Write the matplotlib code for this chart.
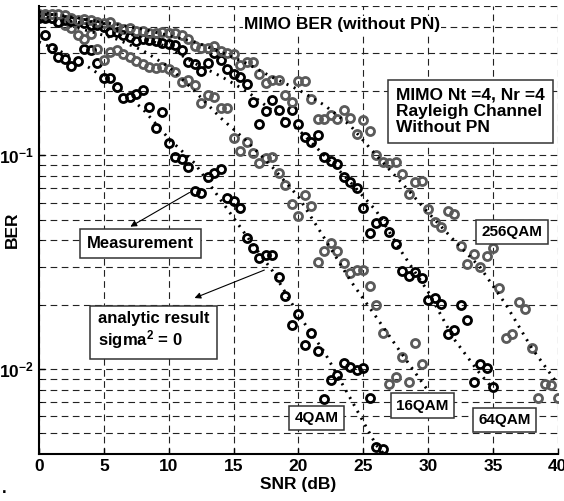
import numpy as np
import matplotlib
matplotlib.use('Agg')
import matplotlib.pyplot as plt
from matplotlib.ticker import LogLocator, FixedLocator, FixedFormatter, NullFormatter

plt.rcParams['font.family'] = ['Liberation Sans', 'DejaVu Sans']
plt.rcParams['font.weight'] = 'bold'
plt.rcParams['mathtext.fontset'] = 'custom'
plt.rcParams['mathtext.rm'] = 'Liberation Sans:bold'
plt.rcParams['mathtext.it'] = 'Liberation Sans:bold'
plt.rcParams['mathtext.bf'] = 'Liberation Sans:bold'

# measured BER, 0.5 dB steps
snr_4 = np.arange(1, 54) / 2
ber_4 = [0.366, 0.32, 0.29, 0.284, 0.262, 0.276, 0.315, 0.313, 0.27, 0.23,
         0.23, 0.21, 0.185, 0.187, 0.193, 0.202, 0.168, 0.135, 0.16, 0.114,
         0.098, 0.096, 0.088, 0.068, 0.067, 0.079, 0.083, 0.086, 0.063, 0.061,
         0.057, 0.041, 0.037, 0.033, 0.034, 0.034, 0.027, 0.022, 0.016, 0.018,
         0.013, 0.0148, 0.0121, 0.0072, 0.0089, 0.0094, 0.0107, 0.0102, 0.0099, 0.0101,
         0.0073, 0.0043, 0.0042]

snr_16 = np.arange(0, 60) / 2
ber_16 = [0.45, 0.45, 0.44, 0.42, 0.41, 0.395, 0.366, 0.35, 0.37, 0.315,
          0.279, 0.305, 0.311, 0.297, 0.29, 0.276, 0.268, 0.26, 0.257, 0.26,
          0.254, 0.245, 0.22, 0.225, 0.213, 0.175, 0.191, 0.187, 0.166, 0.166,
          0.121, 0.105, 0.115, 0.103, 0.092, 0.097, 0.098, 0.083, 0.073, 0.0595,
          0.052, 0.0655, 0.058, 0.0318, 0.0358, 0.039, 0.0355, 0.0315, 0.028, 0.029,
          0.029, 0.0245, 0.02, 0.0148, 0.0085, 0.0092, 0.0114, 0.0087, 0.0133, 0.0106]

snr_64 = np.arange(0, 71) / 2
ber_64 = [0.44, 0.44, 0.44, 0.42, 0.43, 0.425, 0.425, 0.415, 0.41, 0.408,
          0.4, 0.38, 0.38, 0.366, 0.36, 0.345, 0.35, 0.347, 0.343, 0.336,
          0.332, 0.328, 0.311, 0.273, 0.268, 0.248, 0.27, 0.3, 0.279, 0.254,
          0.24, 0.232, 0.215, 0.178, 0.141, 0.162, 0.181, 0.163, 0.144, 0.163,
          0.14, 0.122, 0.115, 0.124, 0.098, 0.094, 0.091, 0.079, 0.075, 0.07,
          0.057, 0.0435, 0.0485, 0.0495, 0.044, 0.0386, 0.0288, 0.0273, 0.0285, 0.0268,
          0.0211, 0.0215, 0.0202, 0.0146, 0.0152, 0.02, 0.017, 0.0087, 0.0105, 0.0101,
          0.0082]

snr_256 = np.arange(0, 81) / 2
ber_256 = [0.46, 0.46, 0.46, 0.46, 0.454, 0.44, 0.43, 0.435, 0.43, 0.42,
           0.415, 0.42, 0.4, 0.39, 0.395, 0.382, 0.382, 0.374, 0.374, 0.378,
           0.374, 0.374, 0.366, 0.351, 0.324, 0.318, 0.32, 0.324, 0.307, 0.301,
           0.298, 0.265, 0.273, 0.273, 0.24, 0.218, 0.225, 0.225, 0.191, 0.177,
           0.222, 0.222, 0.183, 0.148, 0.148, 0.154, 0.148, 0.163, 0.15, 0.126,
           0.146, 0.13, 0.1, 0.093, 0.092, 0.093, 0.082, 0.066, 0.075, 0.076,
           0.056, 0.049, 0.046, 0.055, 0.053, 0.0378, 0.031, 0.0346, 0.03, 0.0339,
           0.037, 0.024, 0.0139, 0.0146, 0.0205, 0.019, 0.0126, 0.0073, 0.0085, 0.0084,
           0.0073]

# analytic curves (sigma^2 = 0)
snr_a4 = [0, 2, 4, 6, 8, 10, 12, 14, 16, 18, 20, 22, 24, 26, 26.6]
ber_a4 = [0.34, 0.30, 0.255, 0.21, 0.165, 0.12, 0.092, 0.062, 0.042, 0.0288,
          0.018, 0.012, 0.0073, 0.0044, 0.004]
snr_a16 = [0, 2, 4, 6, 8, 10, 12, 14, 16, 18, 20, 22, 24, 26, 28, 30]
ber_a16 = [0.43, 0.41, 0.38, 0.35, 0.31, 0.26, 0.2, 0.15, 0.117, 0.088,
           0.064, 0.041, 0.026, 0.0175, 0.0117, 0.0079]
snr_a64 = [0, 2, 4, 6, 8, 10, 12, 14, 16, 18, 20, 22, 24, 26, 28, 30, 32, 34, 35]
ber_a64 = [0.45, 0.43, 0.41, 0.385, 0.355, 0.32, 0.27, 0.235, 0.2, 0.162,
           0.132, 0.1, 0.075, 0.055, 0.035, 0.023, 0.0138, 0.0095, 0.0081]
snr_a256 = [0, 4, 8, 12, 14, 16, 18, 20, 22, 24, 26, 28, 30, 32, 34, 36, 38, 40]
ber_a256 = [0.47, 0.43, 0.39, 0.34, 0.305, 0.27, 0.232, 0.203, 0.172, 0.138,
            0.1, 0.074, 0.054, 0.04, 0.03, 0.02, 0.0125, 0.0085]

xticks = [0, 5, 10, 15, 20, 25, 30, 35, 40]
gray = '#5a5a5a'

fig = plt.figure(figsize=(5.64, 5.01), dpi=100)
ax = fig.add_axes([0.0691, 0.0938, 0.92, 0.894])

mk = dict(ls='none', marker='o', mfc='none', ms=5.8, mew=2.0)
ax.plot(snr_4, ber_4, mec='k', **mk)
ax.plot(snr_16, ber_16, mec=gray, **mk)
ax.plot(snr_64, ber_64, mec='k', **mk)
ax.plot(snr_256, ber_256, mec=gray, **mk)

dot = dict(color='k', lw=2.1, ls=(0, (0.7, 2.0)))
for s, b in [(snr_a4, ber_a4), (snr_a16, ber_a16), (snr_a64, ber_a64), (snr_a256, ber_a256)]:
    ax.plot(s, b, **dot)

ax.set_yscale('log')
ax.set_xlim(0, 40)
ax.set_ylim(0.004, 0.5)
ax.xaxis.set_major_locator(FixedLocator(xticks))
ax.set_xticklabels([str(t) for t in xticks])
ax.yaxis.set_major_locator(FixedLocator([0.01, 0.1]))
ax.yaxis.set_major_formatter(FixedFormatter([r'$10^{-2}$', r'$10^{-1}$']))
ax.yaxis.set_minor_locator(LogLocator(base=10, subs=np.arange(2, 10)))
ax.yaxis.set_minor_formatter(NullFormatter())
ax.tick_params(direction='in', labelsize=12.5, length=4, width=1)
ax.tick_params(which='minor', direction='in', length=2)

grid = dict(color='#222222', lw=0.8, ls=(0, (6, 4)))
ax.grid(True, which='major', axis='both', **grid)
ax.grid(True, which='minor', axis='y', **grid)
ax.set_axisbelow(True)

for side in ['top', 'right']:
    ax.spines[side].set_visible(False)
for side in ['left', 'bottom']:
    ax.spines[side].set_linewidth(1.5)

ax.set_xlabel('SNR (dB)', fontsize=12.5, fontweight='bold', labelpad=2)
ax.set_ylabel('BER', fontsize=12.5, fontweight='bold')
ax.yaxis.set_label_coords(-0.036, 0.5)

ax.text(0.584, 0.958, 'MIMO BER (without PN)', transform=ax.transAxes,
        ha='center', va='center', fontsize=12.5, fontweight='bold',
        bbox=dict(fc='white', ec='none', pad=1))

box = dict(fc='white', ec='#333333', lw=1.1)
ax.text(0.688, 0.7645, 'MIMO Nt =4, Nr =4\nRayleigh Channel\nWithout PN',
        transform=ax.transAxes, ha='left', va='center', fontsize=12.5,
        linespacing=1.1, bbox=dict(boxstyle='square,pad=0.45', **box))
ax.text(0.1956, 0.470, 'Measurement', transform=ax.transAxes, ha='center',
        va='center', fontsize=12, bbox=dict(boxstyle='square,pad=0.4', **box))
ax.text(0.1137, 0.2746, 'analytic result\nsigma$^2$ = 0', transform=ax.transAxes,
        ha='left', va='center', fontsize=12, linespacing=1.15,
        bbox=dict(boxstyle='square,pad=0.45', **box))

for lbl, x, y in [('256QAM', 0.912, 0.4955), ('4QAM', 0.5347, 0.0804),
                  ('16QAM', 0.739, 0.108), ('64QAM', 0.898, 0.0759)]:
    ax.text(x, y, lbl, transform=ax.transAxes, ha='center', va='center',
            fontsize=11, bbox=dict(boxstyle='square,pad=0.35', **box))

arr = dict(arrowstyle='-|>', color='k', lw=0.8, mutation_scale=9)
ax.annotate('', xy=(0.1715, 0.5045), xytext=(0.2948, 0.587),
            xycoords='axes fraction', arrowprops=arr)
ax.annotate('', xy=(0.2948, 0.346), xytext=(0.4393, 0.413),
            xycoords='axes fraction', arrowprops=arr)

fig.text(0.004, 0.015, '.', fontsize=12, fontweight='bold')

fig.savefig('out.png', dpi=100)
